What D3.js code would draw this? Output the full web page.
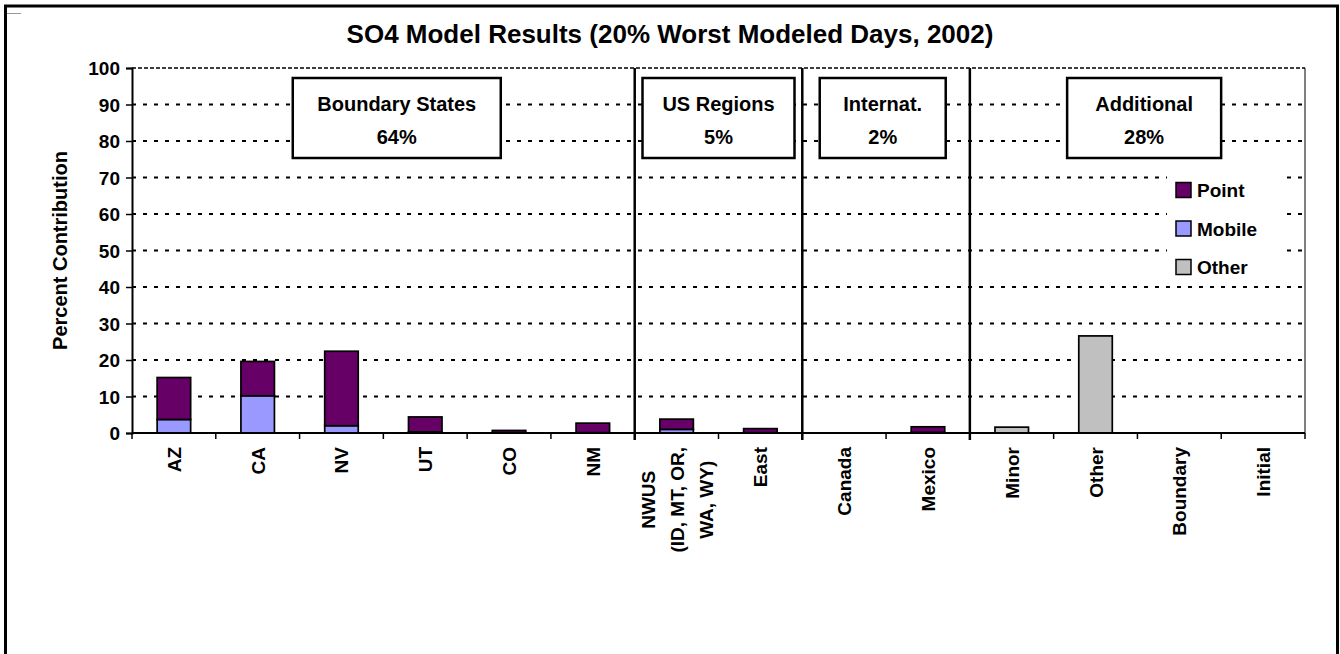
<!DOCTYPE html>
<html>
<head>
<meta charset="utf-8">
<script src="https://cdn.jsdelivr.net/npm/d3@7"></script>
<style>
  body { margin: 0; background: #fff; }
  text { font-family: "Liberation Sans", Arial, sans-serif; font-weight: bold; fill: #000; }
</style>
</head>
<body>
<svg id="chart"></svg>
<script>
// data
var categories = ["AZ", "CA", "NV", "UT", "CO", "NM", "NWUS\n(ID, MT, OR,\nWA, WY)", "East", "Canada", "Mexico", "Minor", "Other", "Boundary", "Initial"];
var pointVals  = [11.5, 9.4, 20.4, 4.1, 0.6, 2.6, 2.8, 1.1, 0, 1.5, 0, 0, 0, 0];
var mobileVals = [3.7, 10.2, 2.0, 0.3, 0.1, 0.1, 1.0, 0.1, 0, 0.2, 0, 0, 0, 0];
var otherVals  = [0, 0, 0, 0, 0, 0, 0, 0, 0, 0, 1.6, 26.6, 0, 0];
var yTicks = [0, 10, 20, 30, 40, 50, 60, 70, 80, 90, 100];
var seriesNames = ["Point", "Mobile", "Other"];
var groupNames = ["Boundary States", "US Regions", "Internat.", "Additional"];
var groupPcts = ["64%", "5%", "2%", "28%"];
var groupEnds = [6, 8, 10];   // separator after these many categories

var colors = {Point: "#660066", Mobile: "#9999ff", Other: "#c0c0c0"};

var W = 1340, H = 654;
var svg = d3.select("#chart").attr("width", W).attr("height", H);

// outer frame
svg.append("rect").attr("x", 5.5).attr("y", 6).attr("width", 1332).attr("height", 660)
    .attr("fill", "none").attr("stroke", "#000").attr("stroke-width", 3);
svg.append("line").attr("x1", 7).attr("x2", 21).attr("y1", 13.5).attr("y2", 13.5)
    .attr("stroke", "#999").attr("stroke-width", 1);

var pLeft = 132, pRight = 1305, pTop = 68, pBottom = 433;

var x = d3.scaleBand().domain(d3.range(categories.length))
    .range([pLeft, pRight]).paddingInner(0.6).paddingOuter(0.3);
var y = d3.scaleLinear().domain([0, 100]).range([pBottom, pTop]);
var step = x.step();

// title
svg.append("text").attr("x", 670).attr("y", 43).attr("text-anchor", "middle")
    .style("font-size", "26px").text("SO4 Model Results (20% Worst Modeled Days, 2002)");

// grid lines
svg.append("g").selectAll("line").data(yTicks.filter(function(d){ return d > 0; }))
    .enter().append("line")
    .attr("x1", pLeft).attr("x2", pRight)
    .attr("y1", function(d){ return y(d); }).attr("y2", function(d){ return y(d); })
    .attr("stroke", "#000")
    .attr("stroke-width", function(d){ return d == 100 ? 1.5 : 2; })
    .attr("stroke-dasharray", function(d){ return d == 100 ? "4,2" : "4,7"; });

// plot right border
svg.append("line").attr("x1", pRight).attr("x2", pRight).attr("y1", pTop).attr("y2", pBottom)
    .attr("stroke", "#000").attr("stroke-width", 1);

// stacked bars
var rows = categories.map(function(c, i) {
    return {i: i, Point: pointVals[i], Mobile: mobileVals[i], Other: otherVals[i]};
});
var stack = d3.stack().keys(["Mobile", "Point", "Other"])(rows);

svg.append("g").selectAll("g").data(stack).enter().append("g")
    .attr("fill", function(s){ return colors[s.key]; })
    .selectAll("rect")
    .data(function(s){ return s.filter(function(d){ return d[1] - d[0] > 0; }); })
    .enter().append("rect")
    .attr("x", function(d){ return x(d.data.i); })
    .attr("width", x.bandwidth())
    .attr("y", function(d){ return y(d[1]); })
    .attr("height", function(d){ return y(d[0]) - y(d[1]); })
    .attr("stroke", "#000").attr("stroke-width", 1.7);

// y axis
var yAxis = svg.append("g").attr("transform", "translate(" + pLeft + ",0)")
    .call(d3.axisLeft(y).tickValues(yTicks).tickSize(6).tickPadding(6));
yAxis.select(".domain").attr("stroke-width", 2);
yAxis.selectAll(".tick line").attr("stroke-width", 1.5);
yAxis.selectAll("text").style("font-size", "19px").attr("dy", "0.36em")
    .style("font-family", "'Liberation Sans', Arial, sans-serif").style("font-weight", "bold");

// x axis line and ticks at category boundaries
svg.append("line").attr("x1", pLeft).attr("x2", pRight).attr("y1", pBottom).attr("y2", pBottom)
    .attr("stroke", "#000").attr("stroke-width", 2);
svg.append("g").selectAll("line").data(d3.range(categories.length + 1)).enter().append("line")
    .attr("x1", function(i){ return pLeft + i * step; })
    .attr("x2", function(i){ return pLeft + i * step; })
    .attr("y1", pBottom).attr("y2", pBottom + 6)
    .attr("stroke", "#000").attr("stroke-width", 1.5);

// group separators
svg.append("g").selectAll("line").data(groupEnds).enter().append("line")
    .attr("x1", function(i){ return pLeft + i * step; })
    .attr("x2", function(i){ return pLeft + i * step; })
    .attr("y1", pTop).attr("y2", pBottom + 7)
    .attr("stroke", "#000").attr("stroke-width", 2.5);

// x labels, rotated
var labelTop = 447;
categories.forEach(function(c, i) {
    var lines = c.split("\n");
    var cx = x(i) + x.bandwidth() / 2;
    if (lines.length == 1) {
        svg.append("text").attr("transform", "translate(" + (cx + 7) + "," + labelTop + ") rotate(-90)")
            .attr("text-anchor", "end").style("font-size", "19px").text(c);
    } else {
        var gap = 29;
        var t = svg.append("text").style("font-size", "19px").attr("text-anchor", "middle");
        lines.forEach(function(l, k) {
            t.append("tspan").attr("x", 0).attr("y", k * gap).text(l);
        });
        var longest = d3.max(t.selectAll("tspan").nodes(), function(n){ return n.getComputedTextLength(); });
        var offs = -(lines.length - 1) * gap / 2 + 7;
        t.attr("transform", "translate(" + (cx + offs) + "," + (labelTop + longest / 2) + ") rotate(-90)");
    }
});

// y axis title
svg.append("text").attr("transform", "translate(67," + ((pTop + pBottom) / 2) + ") rotate(-90)")
    .attr("text-anchor", "middle").style("font-size", "20px").text("Percent Contribution");

// group annotation boxes (centre in category units, width in px)
var boxCentre = [3.16, 7.0, 8.96, 12.08];
var boxWidth = [208, 152, 126, 154];
groupNames.forEach(function(n, k) {
    var cx = pLeft + boxCentre[k] * step;
    var g = svg.append("g");
    g.append("rect").attr("x", cx - boxWidth[k] / 2).attr("y", 78)
        .attr("width", boxWidth[k]).attr("height", 80)
        .attr("fill", "#fff").attr("stroke", "#000").attr("stroke-width", 2.5);
    g.append("text").attr("x", cx).attr("y", 111).attr("text-anchor", "middle")
        .style("font-size", "20px").text(n);
    g.append("text").attr("x", cx).attr("y", 144).attr("text-anchor", "middle")
        .style("font-size", "20px").text(groupPcts[k]);
});

// legend
var lg = svg.append("g");
lg.append("rect").attr("x", 1167).attr("y", 171).attr("width", 114).attr("height", 112).attr("fill", "#fff");
seriesNames.forEach(function(s, k) {
    var cy = 190 + k * 38.5;
    lg.append("rect").attr("x", 1176).attr("y", cy - 7.5).attr("width", 15).attr("height", 15)
        .attr("fill", colors[s]).attr("stroke", "#000").attr("stroke-width", 1.5);
    lg.append("text").attr("x", 1197).attr("y", cy + 7).style("font-size", "19px").text(s);
});
</script>
</body>
</html>
